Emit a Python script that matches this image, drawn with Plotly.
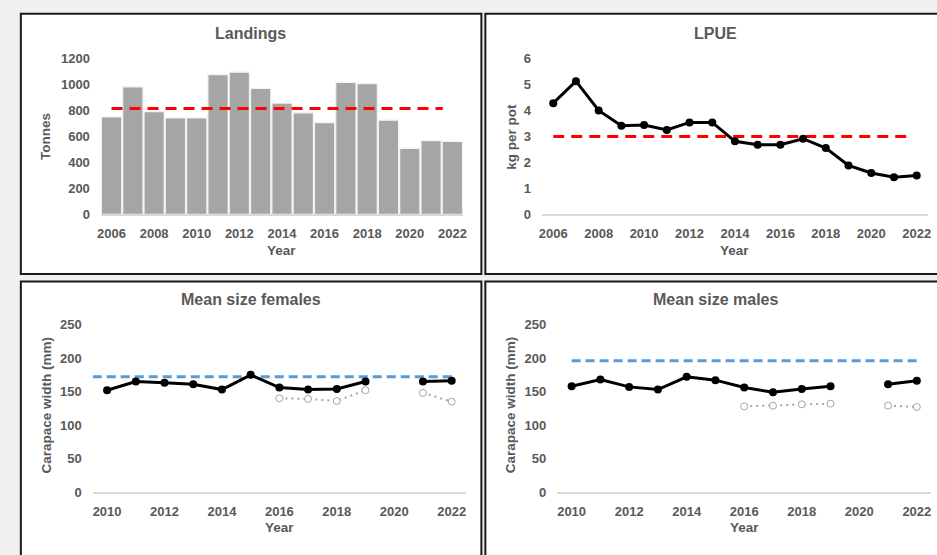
import plotly.graph_objects as go

W, H = 937, 555

# ---------------- data ----------------
years_long = list(range(2006, 2023))
landings_t = [750, 982, 790, 742, 742, 1077, 1095, 970, 857, 782, 707, 1017, 1007, 725, 507, 567, 562]
landings_ref = 815
landings_ref_span = [2006, 2021.55]

lpue = [4.28, 5.13, 4.0, 3.41, 3.44, 3.25, 3.54, 3.54, 2.81, 2.68, 2.68, 2.91, 2.55, 1.88, 1.59, 1.43, 1.49]
lpue_ref = 3.0
lpue_ref_span = [2006, 2021.6]

years_size = list(range(2010, 2023))
fem_mean = [152, 165, 163, 161, 153, 175, 156, 153, 154, 165, None, 165, 166]
fem_other = [None, None, None, None, None, None, 140, 139, 136, 152, None, 148, 135]
fem_ref = 172
fem_ref_span = [2009.5, 2022.05]

male_mean = [158, 168, 157, 153, 172, 167, 156, 149, 154, 158, None, 161, 166]
male_other = [None, None, None, None, None, None, 128, 129, 131, 132, None, 129, 127]
male_ref = 196
male_ref_span = [2010, 2022]

tick_years_long = list(range(2006, 2023, 2))
tick_years_size = list(range(2010, 2023, 2))

TXT = "#595959"
FONT = "Liberation Sans, Arial, sans-serif"


def px_x(p):
    return p / W


def px_y(p):
    return 1 - p / H


fig = go.Figure()

# Panel 1: landings bars
fig.add_trace(go.Bar(x=years_long, y=landings_t, marker=dict(color="#a5a5a5", line=dict(color="#f2f2f2", width=1.2)),
                     xaxis="x", yaxis="y", showlegend=False))
fig.add_trace(go.Scatter(x=landings_ref_span, y=[landings_ref] * 2, mode="lines",
                         line=dict(color="#ff0000", width=3, dash="11px,7px"), xaxis="x", yaxis="y", showlegend=False))

# Panel 2: LPUE
fig.add_trace(go.Scatter(x=lpue_ref_span, y=[lpue_ref] * 2, mode="lines",
                         line=dict(color="#ff0000", width=3, dash="11px,7px"), xaxis="x2", yaxis="y2", showlegend=False))
fig.add_trace(go.Scatter(x=years_long, y=lpue, mode="lines+markers", line=dict(color="black", width=3),
                         marker=dict(color="black", size=8), xaxis="x2", yaxis="y2", showlegend=False))

# Panel 3: females
fig.add_trace(go.Scatter(x=fem_ref_span, y=[fem_ref] * 2, mode="lines",
                         line=dict(color="#5b9bd5", width=3, dash="9px,5px"), xaxis="x3", yaxis="y3", showlegend=False))
fig.add_trace(go.Scatter(x=years_size, y=fem_other, mode="lines+markers", connectgaps=False,
                         line=dict(color="#a6a6a6", width=2, dash="2px,4px"),
                         marker=dict(color="white", size=7, line=dict(color="#a6a6a6", width=1)),
                         xaxis="x3", yaxis="y3", showlegend=False))
fig.add_trace(go.Scatter(x=years_size, y=fem_mean, mode="lines+markers", connectgaps=False,
                         line=dict(color="black", width=3), marker=dict(color="black", size=8),
                         xaxis="x3", yaxis="y3", showlegend=False))

# Panel 4: males
fig.add_trace(go.Scatter(x=male_ref_span, y=[male_ref] * 2, mode="lines",
                         line=dict(color="#5b9bd5", width=3, dash="9px,5px"), xaxis="x4", yaxis="y4", showlegend=False))
fig.add_trace(go.Scatter(x=years_size, y=male_other, mode="lines+markers", connectgaps=False,
                         line=dict(color="#a6a6a6", width=2, dash="2px,4px"),
                         marker=dict(color="white", size=7, line=dict(color="#a6a6a6", width=1)),
                         xaxis="x4", yaxis="y4", showlegend=False))
fig.add_trace(go.Scatter(x=years_size, y=male_mean, mode="lines+markers", connectgaps=False,
                         line=dict(color="black", width=3), marker=dict(color="black", size=8),
                         xaxis="x4", yaxis="y4", showlegend=False))

tickfont = dict(family=FONT, size=13, color=TXT, weight="bold")


def xax(dom, rng, tv, anchor):
    return dict(domain=dom, range=rng, tickvals=tv, ticks="", showgrid=False, zeroline=False,
                showline=True, linecolor="#d9d9d9", linewidth=1.5, tickfont=tickfont,
                ticklabelstandoff=6, anchor=anchor, fixedrange=True)


def yax(dom, rng, dt, anchor):
    return dict(domain=dom, range=rng, dtick=dt, tick0=0, ticks="", showgrid=False, zeroline=False,
                showline=False, tickfont=tickfont, ticklabelstandoff=10, anchor=anchor, fixedrange=True)


top_dom = [px_y(213), px_y(53)]
bot_dom = [px_y(498.7), px_y(326.3)]

fig.update_layout(
    width=W, height=H, autosize=False,
    margin=dict(l=0, r=0, t=0, b=0),
    paper_bgcolor="#f0f0f0", plot_bgcolor="rgba(0,0,0,0)",
    bargap=0.05,
    xaxis=xax([px_x(97.7), px_x(463)], [2005.5, 2022.5], tick_years_long, "y"),
    yaxis=yax(top_dom, [0, 1200], 200, "x"),
    xaxis2=xax([px_x(542.5), px_x(932)], [2005.5, 2022.5], tick_years_long, "y2"),
    yaxis2=yax(top_dom, [0, 6], 1, "x2"),
    xaxis3=xax([px_x(89.5), px_x(466)], [2009.5, 2022.5], tick_years_size, "y3"),
    yaxis3=yax(bot_dom, [0, 250], 50, "x3"),
    xaxis4=xax([px_x(558), px_x(935.2)], [2009.5, 2022.5], tick_years_size, "y4"),
    yaxis4=yax(bot_dom, [0, 250], 50, "x4"),
)

# panel boxes
boxes = [(17, 7, 481.5, 274.5), (485.5, 7, 960, 274.5), (17, 282, 481.5, 580), (485.5, 282, 960, 580)]
for x0, y0, x1, y1 in boxes:
    fig.add_shape(type="rect", xref="paper", yref="paper", x0=px_x(x0), x1=px_x(x1), y0=px_y(y1), y1=px_y(y0),
                  fillcolor="white", line=dict(color="#1a1a1a", width=2), layer="below")

titles = [("Landings", 249, 27), ("LPUE", 717.5, 27), ("Mean size females", 249, 301), ("Mean size males", 718, 301)]
for t, x, y in titles:
    fig.add_annotation(text=t, xref="paper", yref="paper", x=px_x(x), y=px_y(y), showarrow=False,
                       xanchor="center", yanchor="middle", font=dict(family=FONT, size=16, color=TXT, weight="bold"))

axt = dict(family=FONT, size=13.5, color=TXT, weight="bold")
xtitles = [(280, 250), (737, 250), (278, 535), (746.5, 535)]
for x, y in xtitles:
    fig.add_annotation(text="Year", xref="paper", yref="paper", x=px_x(x), y=px_y(y), showarrow=False,
                       xanchor="center", yanchor="middle", font=axt)

ytitles = [("Tonnes", 42, 133), ("kg per pot", 511.7, 133), ("Carapace width (mm)", 43, 409),
           ("Carapace width (mm)", 511.7, 409)]
for t, x, y in ytitles:
    fig.add_annotation(text=t, xref="paper", yref="paper", x=px_x(x), y=px_y(y), showarrow=False, textangle=-90,
                       xanchor="center", yanchor="middle", font=axt)

fig.write_html("out.html", config={"displayModeBar": False},
               post_script="document.body.style.margin='0';document.body.style.padding='0';"
                           "document.body.style.overflow='hidden';")
